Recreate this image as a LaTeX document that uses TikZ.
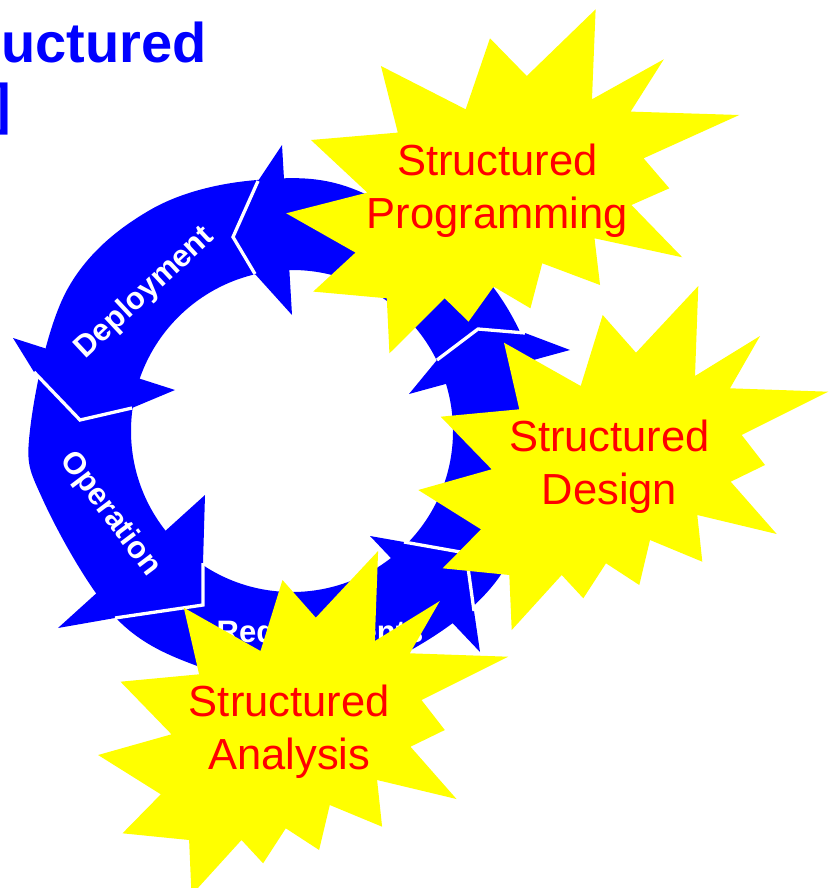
\documentclass[tikz,border=0pt]{standalone}
\usepackage{fontspec}
\setmainfont{Liberation Sans}
\definecolor{pblue}{RGB}{0,0,255}
\definecolor{syellow}{RGB}{255,255,0}
\definecolor{sred}{RGB}{255,0,0}
\newcommand\burst{\fill[syellow] (88.8,-165.7) -- (85.5,-75.7) -- (150.5,-115.7) -- (120.5,-63.4) -- (218.8,-60) -- (132.2,-16.7) -- (155.5,13.3) -- (121.2,30) -- (167.2,82.3) -- (87.8,63.3) -- (92.8,110) -- (40.5,88.3) -- (29.8,133.3) -- (-3.5,111.6) -- (-26.2,146.6) -- (-47.8,123.3) -- (-97.8,178.3) -- (-100.2,123.3) -- (-166.8,116.6) -- (-128.5,77.6) -- (-191.2,38.3) -- (-117.8,17.6) -- (-168.8,-35) -- (-90.2,-42.4) -- (-105.5,-109) -- (-28.8,-65.7) -- (-6.8,-136.7) -- (26.5,-99) -- cycle;}
\begin{document}
\begin{tikzpicture}[x=1pt, y=-1pt,
  titletext/.style={text=pblue, font=\bfseries\fontsize{56}{56}\selectfont, inner sep=0pt},
  ringtext/.style={text=white, font=\bfseries\fontsize{31}{31}\selectfont, inner sep=0pt},
  startext/.style={text=sred, font=\fontsize{43.5}{53}\selectfont, inner sep=0pt, anchor=base},
  notchline/.style={draw=white, line width=3.3pt, line join=miter}
]
\useasboundingbox (0,0) rectangle (828,888);

% title (cut off at the left edge)
\node[titletext, anchor=base east] (title) at (207,63) {Structured};
\node[titletext, anchor=base west] (title2) at (-7.7,124) {]};

% ring body
\fill[pblue, even odd rule] plot[smooth cycle, tension=0.6] coordinates {(30,430) (67,290) (150,210) (257,180) (363,193) (493,287) (545,430) (502,573) (396,658) (290,682) (200,667) (115,617) (43,500)} (292,431) circle[radius=161];

% arrow heads
\coordinate (h1bo) at (282,145); \coordinate (h1so) at (258,181); \coordinate (h1t) at (233,237); \coordinate (h1si) at (255,274); \coordinate (h1bi) at (292,315);
\coordinate (h2bo) at (13,338);  \coordinate (h2so) at (34,372);  \coordinate (h2t) at (80,420);  \coordinate (h2si) at (132,408); \coordinate (h2bi) at (175,390);
\coordinate (h3bo) at (58,628);  \coordinate (h3so) at (115,618); \coordinate (h3t) at (203,605); \coordinate (h3si) at (203,563); \coordinate (h3bi) at (205,495);
\coordinate (h4bo) at (480,652); \coordinate (h4so) at (474,611); \coordinate (h4t) at (466,553); \coordinate (h4si) at (404,542); \coordinate (h4bi) at (370,536);
\coordinate (h5bo) at (570,350); \coordinate (h5so) at (525,333); \coordinate (h5t) at (478,329); \coordinate (h5si) at (437,360); \coordinate (h5bi) at (409,394);
\foreach \h in {h1,h2,h3,h4,h5}{
  \fill[pblue] (\h bo) -- (\h so) -- (\h t) -- (\h si) -- (\h bi) -- cycle;
  \draw[notchline] (\h so) -- (\h t) -- (\h si);
}

% ring labels
\node[ringtext, rotate=43] (ldep) at (145,293) {Deployment};
\node[ringtext, rotate=-53] (lop) at (110,514) {Operation};
\node[ringtext, anchor=base] (lreq) at (320,642) {Requirements};

% bursts
\begin{scope}[shift={(497.5,175)}, xscale=1.105]\burst\end{scope}
\begin{scope}[shift={(609.5,451.7)}]\burst\end{scope}
\begin{scope}[shift={(289.3,716.7)}]\burst\end{scope}

\node[startext] (p1) at (497.5,175) {Structured};
\node[startext] (p2) at (497.5,228) {Programming};
\node[startext] (d1) at (609.5,451.7) {Structured};
\node[startext] (d2) at (609.5,504) {Design};
\node[startext] (a1) at (289.3,716.7) {Structured};
\node[startext] (a2) at (289.3,769.3) {Analysis};
\end{tikzpicture}
\end{document}
